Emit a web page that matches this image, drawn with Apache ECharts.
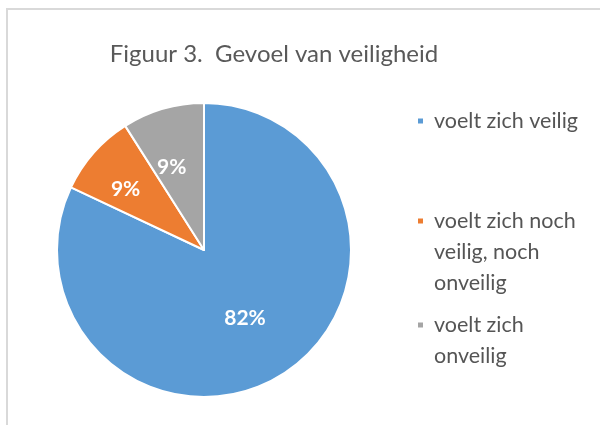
<!DOCTYPE html>
<html>
<head>
<meta charset="utf-8">
<script src="https://cdn.jsdelivr.net/npm/echarts@6/dist/echarts.min.js"></script>
<style>
  html, body { margin: 0; padding: 0; background: #fff; }
  #chart { width: 600px; height: 425px; }
</style>
</head>
<body>
<div id="chart"></div>
<script>
// categorieën en waarden (procenten)
const categories = ['voelt zich veilig', 'voelt zich noch veilig, noch onveilig', 'voelt zich onveilig']
const legendLabels = ['voelt zich veilig', 'voelt zich noch\nveilig, noch\nonveilig', 'voelt zich\nonveilig']
const values = [82, 9, 9]
const colors = ['#5B9BD5', '#ED7D31', '#A5A5A5']

// verschuiving van de labels t.o.v. standaard 'inside' positie
const labelShift = [[0, 4], [-21, -10], [-11, -9]]
// legenda: bovenkant per item
const legendTops = [110, 148, 283]

const chart = echarts.init(document.getElementById('chart'))

const legends = categories.map((name, i) => {
  const lines = legendLabels[i].split('\n')
  // lege regels ervoor, zodat het icoon bij de eerste regel staat
  const pad = new Array(lines.length - 1).fill('{t|}')
  const text = pad.concat(lines.map(l => '{t|' + l + '}')).join('\n')
  return {
    orient: 'vertical',
    left: 416,
    top: legendTops[i],
    padding: 0,
    icon: 'rect',
    itemWidth: 7,
    itemHeight: 7,
    itemGap: 0,
    selectedMode: false,
    formatter: () => text,
    textStyle: {
      rich: {
        t: {
          fontFamily: 'Lato',
          fontSize: 21.5,
          color: '#555555',
          lineHeight: 31,
          padding: [0, 0, 0, 5]
        }
      }
    },
    data: [name]
  }
})

const option = {
  backgroundColor: '#fff',
  animation: false,
  title: {
    text: 'Figuur 3.  Gevoel van veiligheid',
    left: 269,
    textAlign: 'center',
    top: 37,
    textStyle: {
      fontFamily: 'Lato',
      fontSize: 24,
      fontWeight: 'normal',
      color: '#595959'
    }
  },
  graphic: [{
    type: 'rect',
    shape: { x: 7, y: 9, width: 700, height: 500 },
    style: { fill: 'none', stroke: '#d9d9d9', lineWidth: 2 },
    silent: true
  }],
  legend: legends,
  series: [{
    type: 'pie',
    center: [204, 250],
    radius: 147,
    startAngle: 90,
    clockwise: true,
    silent: true,
    itemStyle: {
      borderColor: '#fff',
      borderWidth: 2
    },
    label: {
      show: true,
      position: 'inside',
      formatter: '{c}%',
      color: '#fff',
      fontFamily: 'Lato',
      fontWeight: 'bold',
      fontSize: 21
    },
    labelLine: { show: false },
    labelLayout: (params) => ({
      dx: labelShift[params.dataIndex][0],
      dy: labelShift[params.dataIndex][1]
    }),
    data: categories.map((name, i) => ({
      name: name,
      value: values[i],
      itemStyle: { color: colors[i] }
    }))
  }]
}

chart.setOption(option)
</script>
</body>
</html>
